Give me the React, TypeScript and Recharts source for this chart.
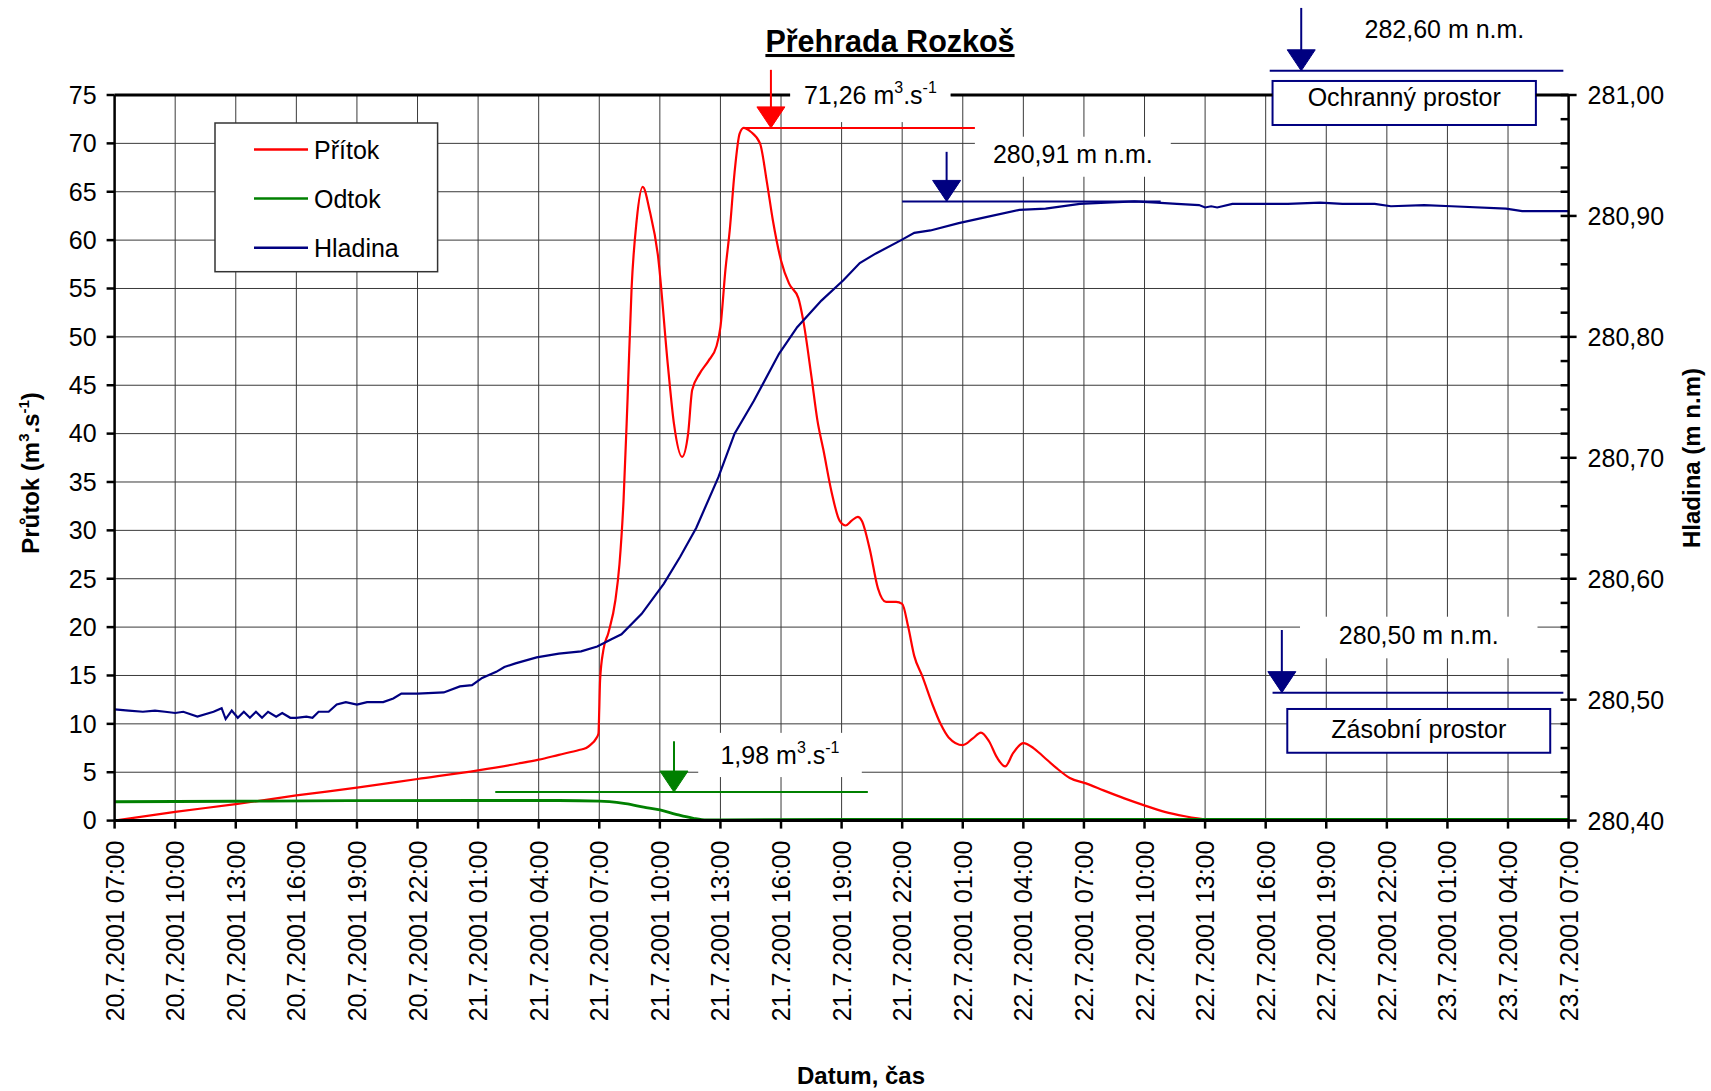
import React from 'react';
import {
  ComposedChart,
  Line,
  XAxis,
  YAxis,
  CartesianGrid,
  ReferenceLine,
  ReferenceArea,
  ReferenceDot,
} from 'recharts';

const FONT = '"Liberation Sans", Arial, Helvetica, sans-serif';

// ---- Axis ticks -------------------------------------------------------
const xTicks = [0, 3, 6, 9, 12, 15, 18, 21, 24, 27, 30, 33, 36, 39, 42, 45, 48, 51, 54, 57, 60, 63, 66, 69, 72];
const xTickLabels = [
  '20.7.2001 07:00', '20.7.2001 10:00', '20.7.2001 13:00', '20.7.2001 16:00', '20.7.2001 19:00',
  '20.7.2001 22:00', '21.7.2001 01:00', '21.7.2001 04:00', '21.7.2001 07:00', '21.7.2001 10:00',
  '21.7.2001 13:00', '21.7.2001 16:00', '21.7.2001 19:00', '21.7.2001 22:00', '22.7.2001 01:00',
  '22.7.2001 04:00', '22.7.2001 07:00', '22.7.2001 10:00', '22.7.2001 13:00', '22.7.2001 16:00',
  '22.7.2001 19:00', '22.7.2001 22:00', '23.7.2001 01:00', '23.7.2001 04:00', '23.7.2001 07:00',
];
const leftTicks = [0, 5, 10, 15, 20, 25, 30, 35, 40, 45, 50, 55, 60, 65, 70, 75];
const rightTicks = [
  280.4, 280.42, 280.44, 280.46, 280.48, 280.5, 280.52, 280.54, 280.56, 280.58,
  280.6, 280.62, 280.64, 280.66, 280.68, 280.7, 280.72, 280.74, 280.76, 280.78,
  280.8, 280.82, 280.84, 280.86, 280.88, 280.9, 280.92, 280.94, 280.96, 280.98, 281.0,
];
const rightTickLabels = ['280,40', '280,50', '280,60', '280,70', '280,80', '280,90', '281,00'];

// ---- Series (hours since 20.7.2001 07:00) --------------------------------
const pritokHours = [
  0, 3, 6, 9, 12, 15, 18, 20, 21, 22, 23, 23.35, 23.55, 23.85, 23.96, 24.0, 24.04, 24.2, 24.45, 24.8,
  25.0, 25.2, 25.4, 25.6, 25.85, 26.15, 26.5, 26.9, 27.4, 27.7, 28.1, 28.4, 28.6, 28.97, 29.4, 29.8,
  30.0, 30.25, 30.46, 30.7, 30.95, 31.15, 31.5, 31.96, 32.3, 32.6, 33.0, 33.4, 33.86, 34.1, 34.5, 34.8,
  35.1, 35.5, 35.9, 36.2, 36.5, 36.8, 37.0, 37.4, 37.8, 38.2, 38.7, 39.0, 39.3, 39.6, 40.0, 40.5, 40.9,
  41.3, 42.0, 42.5, 42.9, 43.3, 43.7, 44.1, 44.5, 45.0, 45.5, 46.0, 46.6, 47.3, 48.1, 49, 50, 51.1, 52,
  53, 54.1, 55, 60, 66, 72,
];
const pritokValues = [
  0, 0.9, 1.7, 2.6, 3.4, 4.3, 5.2, 5.9, 6.3, 6.8, 7.3, 7.5, 7.8, 8.5, 9.0, 11.5, 14.5, 17.6, 19.4, 22.8,
  26.5, 33, 43.5, 55, 62, 65.5, 63, 58.5, 47, 41, 37.6, 40, 44.5, 46.2, 47.5, 49,
  51, 57, 61, 67, 71, 71.6, 71.2, 70, 66, 62, 57.9, 55.5, 54, 51.7, 46, 41.4,
  38.3, 34, 31, 30.5, 31, 31.4, 31, 28, 24, 22.6, 22.6, 22.4, 20, 17, 14.9, 12, 10,
  8.6, 7.8, 8.5, 9.1, 8.2, 6.5, 5.6, 7, 8.0, 7.5, 6.6, 5.5, 4.4, 3.85, 3.1, 2.3, 1.5, 0.9,
  0.45, 0.1, 0, 0, 0, 0,
];

const odtokHours = [0, 6, 12, 18, 22, 24, 24.5, 25.3, 26.2, 27, 27.8, 28.66, 29.3, 30, 36, 48, 72];
const odtokValues = [1.95, 2.0, 2.07, 2.08, 2.08, 2.02, 1.96, 1.75, 1.4, 1.1, 0.65, 0.24, 0.07, 0.08, 0.12, 0.12, 0.12];

const hladinaHours = [
  0, 0.7, 1.4, 2.0, 2.5, 3.0, 3.4, 4.1, 4.9, 5.3, 5.5, 5.8, 6.1, 6.4, 6.7, 7.0, 7.3, 7.6, 8.0, 8.3,
  8.7, 9.0, 9.5, 9.8, 10.1, 10.6, 11.0, 11.45, 12.0, 12.5, 13.3, 13.8, 14.2, 15.0, 16.3, 17.1, 17.7,
  18.2, 18.9, 19.3, 19.85, 20.9, 22.0, 23.1, 23.9, 24.6, 25.1, 26.1, 27.2, 28.0, 28.8, 29.9, 30.7,
  31.65, 32.9, 33.8, 35.0, 36.1, 36.9, 37.7, 38.95, 39.6, 40.4, 41.8, 43.15, 44.8, 46.1, 47.8, 49.1,
  50.5, 51.6, 52.6, 53.7, 54.0, 54.3, 54.6, 55.35, 58.1, 59.7, 60.8, 62.4, 63.2, 64.85, 66.2, 68.9,
  69.7, 72,
];
const hladinaValues = [
  280.492, 280.491, 280.49, 280.491, 280.49, 280.489, 280.49, 280.486, 280.49, 280.493, 280.484,
  280.491, 280.485, 280.49, 280.485, 280.49, 280.485, 280.49, 280.486, 280.489, 280.485, 280.485,
  280.486, 280.485, 280.49, 280.49, 280.496, 280.498, 280.496, 280.498, 280.498, 280.501, 280.505,
  280.505, 280.506, 280.511, 280.512, 280.518, 280.523, 280.527, 280.53, 280.535, 280.538, 280.54,
  280.544, 280.55, 280.554, 280.571, 280.596, 280.618, 280.642, 280.684, 280.72, 280.747, 280.786,
  280.808, 280.83, 280.847, 280.861, 280.869, 280.88, 280.886, 280.888, 280.894, 280.899, 280.905,
  280.906, 280.91, 280.911, 280.912, 280.911, 280.91, 280.909, 280.907, 280.908, 280.907, 280.91,
  280.91, 280.911, 280.91, 280.91, 280.908, 280.909, 280.908, 280.906, 280.904, 280.904,
];

const pritokData = pritokHours.map((h, i) => ({ h, v: pritokValues[i] }));
const odtokData = odtokHours.map((h, i) => ({ h, v: odtokValues[i] }));
const hladinaData = hladinaHours.map((h, i) => ({ h, v: hladinaValues[i] }));

const RED = '#ff0000';
const GREEN = '#008000';
const NAVY = '#000080';

// ---- tick renderers ---------------------------------------------------
const XTick = (props: any) => {
  const { x, y, payload } = props;
  const i = xTicks.indexOf(payload.value);
  return (
    <text
      transform={`translate(${x + 9},${y + 12}) rotate(-90)`}
      textAnchor="end"
      fontSize={25}
      fontFamily={FONT}
      fill="#000"
    >
      {xTickLabels[i]}
    </text>
  );
};

const RightTick = (props: any) => {
  const { x, y, index } = props;
  const major = index % 5 === 0;
  return (
    <g>
      <line x1={x - 8} x2={major ? x + 8 : x} y1={y} y2={y} stroke="#000" strokeWidth={2.5} />
      {major && (
        <text x={x + 19} y={y} dy="0.36em" fontSize={25} fontFamily={FONT} fill="#000">
          {rightTickLabels[index / 5]}
        </text>
      )}
    </g>
  );
};

const boxShape = (content: React.ReactNode, shift = 0, stroke?: string) => (p: any) => (
  <g>
    <rect
      x={p.x}
      y={p.y}
      width={p.width}
      height={p.height}
      fill="#fff"
      stroke={stroke || 'none'}
      strokeWidth={stroke ? 2 : 0}
    />
    <text
      x={p.x + p.width / 2}
      y={p.y + p.height / 2 + shift}
      dy="0.34em"
      textAnchor="middle"
      fontSize={25}
      fontFamily={FONT}
      fill="#000"
    >
      {content}
    </text>
  </g>
);

const arrowHead = (color: string) => (p: any) => (
  <polygon
    points={`${p.cx - 14},${p.cy - 21} ${p.cx + 14},${p.cy - 21} ${p.cx},${p.cy}`}
    fill={color}
    stroke={color}
    strokeWidth={1}
  />
);

const flowLabel = (num: string) => (
  <>
    <tspan>{num} m</tspan>
    <tspan dy={-11} fontSize={16}>3</tspan>
    <tspan dy={11}>.s</tspan>
    <tspan dy={-11} fontSize={16}>-1</tspan>
  </>
);

const legendItems = [
  { name: 'Přítok', color: RED },
  { name: 'Odtok', color: GREEN },
  { name: 'Hladina', color: NAVY },
];

export default function App() {
  return (
    <div style={{ position: 'absolute', left: 0, top: 0, width: 1711, height: 1091, background: '#fff' }}>
      <ComposedChart
        width={1711}
        height={1091}
        margin={{ top: 95, right: 0.4, bottom: 70.4, left: 34.6 }}
        style={{ fontFamily: FONT }}
      >
        <CartesianGrid yAxisId="left" stroke="#3a3a3a" strokeWidth={1} />
        <XAxis
          dataKey="h"
          type="number"
          domain={[0, 72]}
          ticks={xTicks}
          interval={0}
          height={200}
          tick={<XTick />}
          tickSize={8}
          tickMargin={0}
          axisLine={{ stroke: '#000', strokeWidth: 3 }}
          tickLine={{ stroke: '#000', strokeWidth: 2.5 }}
          allowDataOverflow
        />
        <YAxis
          yAxisId="left"
          domain={[0, 75]}
          ticks={leftTicks}
          interval={0}
          width={80}
          tickSize={8}
          tickMargin={10}
          tick={{ fontSize: 25, fill: '#000', fontFamily: FONT }}
          axisLine={{ stroke: '#000', strokeWidth: 2.5 }}
          tickLine={{ stroke: '#000', strokeWidth: 2.5 }}
          allowDataOverflow
        />
        <YAxis
          yAxisId="right"
          orientation="right"
          domain={[280.4, 281.0]}
          ticks={rightTicks}
          interval={0}
          width={142}
          tickSize={0}
          tickMargin={0}
          tickLine={false}
          tick={<RightTick />}
          axisLine={{ stroke: '#000', strokeWidth: 2.5 }}
          allowDataOverflow
        />

        {/* top border, interrupted by the label boxes */}
        <ReferenceLine yAxisId="left" segment={[{ x: 0, y: 75 }, { x: 33.45, y: 75 }]} stroke="#000" strokeWidth={3} ifOverflow="visible" />
        <ReferenceLine yAxisId="left" segment={[{ x: 41.4, y: 75 }, { x: 57.34, y: 75 }]} stroke="#000" strokeWidth={3} ifOverflow="visible" />
        <ReferenceLine yAxisId="left" segment={[{ x: 70.38, y: 75 }, { x: 72, y: 75 }]} stroke="#000" strokeWidth={3} ifOverflow="visible" />

        {/* white label boxes */}
        <ReferenceArea yAxisId="left" x1={33.45} x2={41.4} y1={72.2} y2={76.96} ifOverflow="visible" shape={boxShape(flowLabel('71,26'), -4)} />
        <ReferenceArea yAxisId="left" x1={28.9} x2={37.0} y1={4.5} y2={9.07} ifOverflow="visible" shape={boxShape(flowLabel('1,98'), 1)} />
        <ReferenceArea yAxisId="right" x1={42.6} x2={52.3} y1={280.9324} y2={280.9655} ifOverflow="visible" shape={boxShape('280,91 m n.m.', -2)} />
        <ReferenceArea yAxisId="right" x1={61.8} x2={69.9} y1={281.039} y2={281.07} ifOverflow="visible" shape={boxShape('282,60 m n.m.', 0)} />
        <ReferenceArea yAxisId="right" x1={58.7} x2={70.46} y1={280.5342} y2={280.5686} ifOverflow="visible" shape={boxShape('280,50 m n.m.', -2)} />
        <ReferenceArea yAxisId="right" x1={57.34} x2={70.38} y1={280.9752} y2={281.0116} ifOverflow="visible" shape={boxShape('Ochranný prostor', -5, NAVY)} />
        <ReferenceArea yAxisId="right" x1={58.07} x2={71.09} y1={280.4561} y2={280.4923} ifOverflow="visible" shape={boxShape('Zásobní prostor', -1, NAVY)} />

        {/* red maximum */}
        <ReferenceLine yAxisId="left" segment={[{ x: 31.15, y: 71.6 }, { x: 42.6, y: 71.6 }]} stroke={RED} strokeWidth={2} ifOverflow="visible" />
        <ReferenceLine yAxisId="left" segment={[{ x: 32.5, y: 77.6 }, { x: 32.5, y: 73.0 }]} stroke={RED} strokeWidth={2} ifOverflow="visible" />
        <ReferenceDot yAxisId="left" x={32.5} y={71.6} r={0} ifOverflow="visible" shape={arrowHead(RED)} />

        {/* green outflow */}
        <ReferenceLine yAxisId="left" segment={[{ x: 18.85, y: 2.95 }, { x: 37.3, y: 2.95 }]} stroke={GREEN} strokeWidth={2} ifOverflow="visible" />
        <ReferenceLine yAxisId="left" segment={[{ x: 27.7, y: 8.2 }, { x: 27.7, y: 4.5 }]} stroke={GREEN} strokeWidth={2} ifOverflow="visible" />
        <ReferenceDot yAxisId="left" x={27.7} y={2.95} r={0} ifOverflow="visible" shape={arrowHead(GREEN)} />

        {/* blue levels */}
        <ReferenceLine yAxisId="right" segment={[{ x: 39.0, y: 280.912 }, { x: 51.8, y: 280.912 }]} stroke={NAVY} strokeWidth={2} ifOverflow="visible" />
        <ReferenceLine yAxisId="right" segment={[{ x: 41.2, y: 280.953 }, { x: 41.2, y: 280.92 }]} stroke={NAVY} strokeWidth={2} ifOverflow="visible" />
        <ReferenceDot yAxisId="right" x={41.2} y={280.912} r={0} ifOverflow="visible" shape={arrowHead(NAVY)} />

        <ReferenceLine yAxisId="right" segment={[{ x: 57.2, y: 281.02 }, { x: 71.74, y: 281.02 }]} stroke={NAVY} strokeWidth={2} ifOverflow="visible" />
        <ReferenceLine yAxisId="right" segment={[{ x: 58.76, y: 281.072 }, { x: 58.76, y: 281.03 }]} stroke={NAVY} strokeWidth={2} ifOverflow="visible" />
        <ReferenceDot yAxisId="right" x={58.76} y={281.02} r={0} ifOverflow="visible" shape={arrowHead(NAVY)} />

        <ReferenceLine yAxisId="right" segment={[{ x: 57.34, y: 280.5058 }, { x: 71.74, y: 280.5058 }]} stroke={NAVY} strokeWidth={2} ifOverflow="visible" />
        <ReferenceLine yAxisId="right" segment={[{ x: 57.8, y: 280.5576 }, { x: 57.8, y: 280.515 }]} stroke={NAVY} strokeWidth={2} ifOverflow="visible" />
        <ReferenceDot yAxisId="right" x={57.8} y={280.5058} r={0} ifOverflow="visible" shape={arrowHead(NAVY)} />

        <Line yAxisId="left" data={pritokData} dataKey="v" type="monotone" stroke={RED} strokeWidth={2.2} dot={false} isAnimationActive={false} />
        <Line yAxisId="left" data={odtokData} dataKey="v" type="monotone" stroke={GREEN} strokeWidth={2.8} dot={false} isAnimationActive={false} />
        <Line yAxisId="right" data={hladinaData} dataKey="v" type="linear" stroke={NAVY} strokeWidth={2.2} dot={false} isAnimationActive={false} />
      </ComposedChart>

      <svg
        width={1711}
        height={1091}
        style={{ position: 'absolute', left: 0, top: 0, pointerEvents: 'none' }}
        fontFamily={FONT}
      >
        <text x={890} y={52} textAnchor="middle" fontSize={30.5} fontWeight="bold" textDecoration="underline" fill="#000">
          Přehrada Rozkoš
        </text>
        <text x={861} y={1084} textAnchor="middle" fontSize={24} fontWeight="bold" fill="#000">
          Datum, čas
        </text>
        <text transform="translate(39,473) rotate(-90)" textAnchor="middle" fontSize={24} fontWeight="bold" fill="#000">
          Průtok (m<tspan dy={-10} fontSize={15}>3</tspan>
          <tspan dy={10}>.s</tspan>
          <tspan dy={-10} fontSize={15}>-1</tspan>
          <tspan dy={10}>)</tspan>
        </text>
        <text transform="translate(1700,458) rotate(-90)" textAnchor="middle" fontSize={24} fontWeight="bold" fill="#000">
          Hladina (m n.m)
        </text>

        <rect x={215} y={123} width={222.6} height={148.7} fill="#fff" stroke="#333" strokeWidth={1.5} />
        {legendItems.map((it, i) => (
          <g key={it.name}>
            <line x1={254} x2={308} y1={149.5 + i * 49.1} y2={149.5 + i * 49.1} stroke={it.color} strokeWidth={2.5} />
            <text x={314} y={149.5 + i * 49.1} dy="0.36em" fontSize={25} fill="#000">
              {it.name}
            </text>
          </g>
        ))}
      </svg>
    </div>
  );
}
